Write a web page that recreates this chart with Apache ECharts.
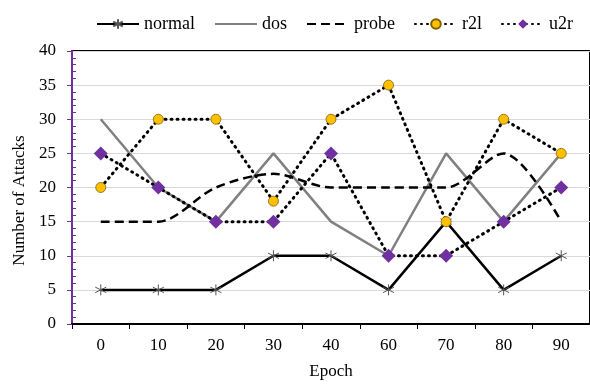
<!DOCTYPE html>
<html>
<head>
<meta charset="utf-8">
<script src="https://cdn.jsdelivr.net/npm/echarts@6/dist/echarts.min.js"></script>
<style>html,body{margin:0;padding:0;background:#fff}#c{width:590px;height:385px}</style>
</head>
<body>
<div id="c"></div>
<script>
var epochs = ['0','10','20','30','40','60','70','80','90'];
var normal = [5,5,5,10,10,5,15,5,10];
var dos = [30,20,15,25,15,10,25,15,25];
var probe = [15,15,20,22,20,20,20,25,15];
var r2l = [20,30,30,18,30,35,15,30,25];
var u2r = [25,20,15,15,25,10,10,15,20];
var yTicks = [0,5,10,15,20,25,30,35,40];

var FONT = '"Liberation Serif", "Times New Roman", serif';
var star = 'path://M0,-10 L0,10 M-8.66,-5 L8.66,5 M-8.66,5 L8.66,-5';
var DOTS = [1, 5];

var chart = echarts.init(document.getElementById('c'));
chart.setOption({
  animation: false,
  textStyle: {fontFamily: FONT},
  legend: {
    top: 10, left: 91,
    itemWidth: 42, itemHeight: 12, itemGap: 19,
    textStyle: {fontFamily: FONT, fontSize: 18, color: '#000'},
    data: [
      {name: 'normal'},
      {name: 'dos', itemStyle: {color: 'transparent', borderWidth: 0, opacity: 0}},
      {name: 'probe', itemStyle: {color: 'transparent', borderWidth: 0, opacity: 0}},
      {name: 'r2l'},
      {name: 'u2r'}
    ]
  },
  grid: {left: 72, top: 51, width: 525, height: 276, show: true, borderColor: '#000', borderWidth: 2, backgroundColor: 'transparent'},
  xAxis: {
    type: 'category', data: epochs,
    name: 'Epoch', nameLocation: 'middle', nameGap: 39,
    nameTextStyle: {fontFamily: FONT, fontSize: 17, color: '#000'},
    axisLine: {lineStyle: {color: '#000', width: 2}},
    axisTick: {show: true, length: 5, lineStyle: {color: '#000', width: 1}},
    axisLabel: {fontFamily: FONT, fontSize: 17, color: '#000', margin: 13},
    splitLine: {show: false}
  },
  yAxis: [{
    type: 'value', min: yTicks[0], max: yTicks[yTicks.length-1], interval: 5,
    name: 'Number of Attacks', nameLocation: 'middle', nameGap: 44, nameRotate: 90,
    nameTextStyle: {fontFamily: FONT, fontSize: 17, color: '#000', padding: [0, 26, 0, 0]},
    axisLine: {show: true, lineStyle: {color: '#7030A0', width: 2}},
    axisTick: {show: true, length: 5, lineStyle: {color: '#7030A0'}},
    axisLabel: {fontFamily: FONT, fontSize: 17, color: '#000', margin: 16},
    splitLine: {show: true, lineStyle: {color: '#d9d9d9', width: 1}}
  }, {
    type: 'value', position: 'left', min: yTicks[0], max: yTicks[yTicks.length-1], interval: 5,
    axisLine: {show: false},
    axisTick: {show: false, inside: true},
    minorTick: {show: true, splitNumber: 5, length: 4, lineStyle: {color: '#7030A0', width: 1}},
    axisLabel: {show: false},
    splitLine: {show: false}
  }],
  series: [
    {name: 'normal', type: 'line', data: normal, symbol: star, symbolSize: 11,
     itemStyle: {color: '#000', borderColor: '#555', borderWidth: 1},
     lineStyle: {color: '#000', width: 2.5}},
    {name: 'dos', type: 'line', data: dos, symbol: 'none',
     itemStyle: {color: '#808080'},
     lineStyle: {color: '#808080', width: 2.5}},
    {name: 'probe', type: 'line', data: probe, symbol: 'none', smooth: 0.3,
     itemStyle: {color: '#000'},
     lineStyle: {color: '#000', width: 2.5, type: [9, 5]}},
    {name: 'r2l', type: 'line', data: r2l, symbol: 'circle', symbolSize: 10,
     itemStyle: {color: '#FFC000', borderColor: '#7f6000', borderWidth: 0.8},
     lineStyle: {color: '#000', width: 3, type: DOTS, cap: 'round'}},
    {name: 'u2r', type: 'line', data: u2r, symbol: 'diamond', symbolSize: 14,
     itemStyle: {color: '#7030A0'},
     lineStyle: {color: '#000', width: 3, type: DOTS, cap: 'round'}}
  ]
});
</script>
</body>
</html>
